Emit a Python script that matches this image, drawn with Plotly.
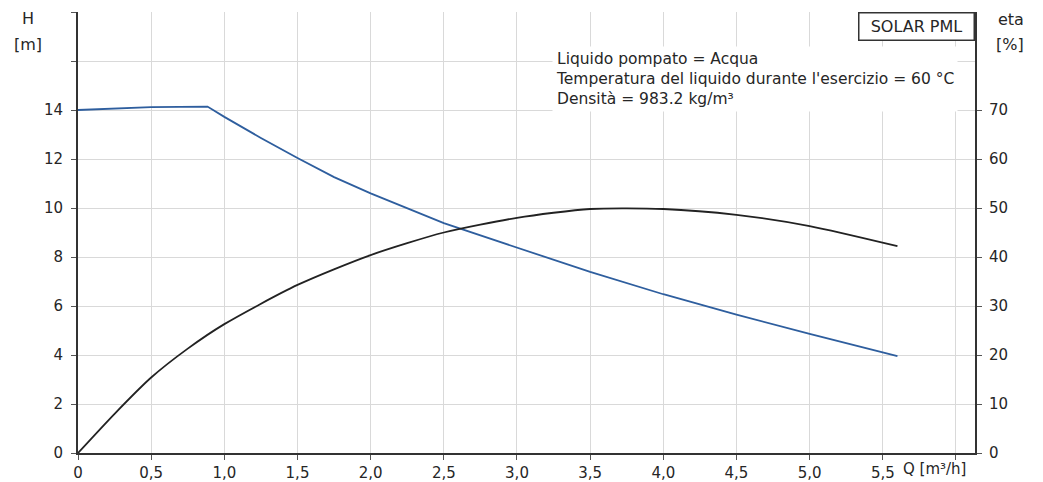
import plotly.graph_objects as go

# pump curve readings
q_head = [0, 0.5, 0.885, 1.0, 1.25, 1.5, 1.75, 2.0, 2.5, 3.0, 3.5, 4.0, 4.5, 5.0, 5.5, 5.6]
head_m = [14.0, 14.12, 14.14, 13.72, 12.86, 12.04, 11.26, 10.6, 9.38, 8.37, 7.39, 6.48, 5.65, 4.86, 4.1, 3.95]

q_eta = [0, 0.25, 0.5, 0.75, 1.0, 1.5, 2.0, 2.5, 3.0, 3.5, 4.0, 4.5, 5.0, 5.6]
eta_pct = [0, 8.0, 15.4, 21.3, 26.3, 34.3, 40.4, 45.0, 48.0, 49.8, 49.8, 48.6, 46.3, 42.2]

x_ticks = [0, 0.5, 1.0, 1.5, 2.0, 2.5, 3.0, 3.5, 4.0, 4.5, 5.0, 5.5, 6.0]
x_labels = ["0", "0,5", "1,0", "1,5", "2,0", "2,5", "3,0", "3,5", "4,0", "4,5", "5,0", "5,5", ""]
h_ticks = [0, 2, 4, 6, 8, 10, 12, 14, 16, 18]
h_labels = ["0", "2", "4", "6", "8", "10", "12", "14", "", ""]
eta_ticks = [0, 10, 20, 30, 40, 50, 60, 70]

FONT = "DejaVu Sans, Verdana, sans-serif"
TXT = "#262626"

W, H = 1035, 474          # page body adds an 8px offset
L, R, T, B = 70, 68, 4, 29
PW, PH = W - L - R, H - T - B


def px(x):
    # screen x -> paper
    return (x - 8 - L) / PW


def py(y):
    # screen y -> paper
    return (H - B - (y - 8)) / PH


fig = go.Figure()
fig.add_trace(go.Scatter(x=q_head, y=head_m, mode="lines",
                         line=dict(color="#2E5E9E", width=1.8), name="H"))
fig.add_trace(go.Scatter(x=q_eta, y=eta_pct, mode="lines", yaxis="y2",
                         line=dict(color="#222222", width=1.8, shape="spline", smoothing=0.7),
                         name="eta"))

axis_common = dict(showline=True, linecolor="#333333", linewidth=2, zeroline=False,
                   ticks="outside", ticklen=5, tickcolor="#555555", automargin=False,
                   tickfont=dict(family=FONT, size=15, color=TXT))

fig.update_layout(
    width=W, height=H,
    margin=dict(l=L, r=R, t=T, b=B),
    paper_bgcolor="white", plot_bgcolor="white",
    showlegend=False,
    font=dict(family=FONT, size=15, color=TXT),
    xaxis=dict(range=[0, 6.13], tickvals=x_ticks, ticktext=x_labels,
               showgrid=True, gridcolor="#d9d9d9", gridwidth=1, **axis_common),
    yaxis=dict(range=[0, 18], tickvals=h_ticks, ticktext=h_labels,
               showgrid=True, gridcolor="#d9d9d9", gridwidth=1,
               ticklabelstandoff=5, **axis_common),
    yaxis2=dict(range=[0, 90], tickvals=eta_ticks, overlaying="y", side="right",
                showgrid=False, ticklabelstandoff=4, **axis_common),
)

fig.add_annotation(text="Liquido pompato = Acqua<br>Temperatura del liquido durante l'esercizio = 60 °C<br>Densità = 983.2 kg/m³",
                   xref="paper", yref="paper", x=px(552), y=py(46), xanchor="left", yanchor="top",
                   align="left", showarrow=False, bgcolor="white", borderpad=3,
                   font=dict(size=15.5, color=TXT))
fig.add_annotation(text="SOLAR PML", xref="paper", yref="paper", x=1, y=1,
                   xanchor="right", yanchor="top", showarrow=False,
                   bgcolor="white", bordercolor="#333333", borderwidth=1.5,
                   width=112, height=24, font=dict(size=16, color=TXT))

for txt, x, y in [("H", 28, 18), ("[m]", 28, 45), ("eta", 1011, 20), ("[%]", 1010, 44),
                  ("Q [m³/h]", 934, 469)]:
    fig.add_annotation(text=txt, xref="paper", yref="paper",
                       x=px(x), y=py(y), xanchor="center", yanchor="middle",
                       showarrow=False, font=dict(size=16 if len(txt) < 4 else 15, color=TXT))

fig.write_html("out.html")
